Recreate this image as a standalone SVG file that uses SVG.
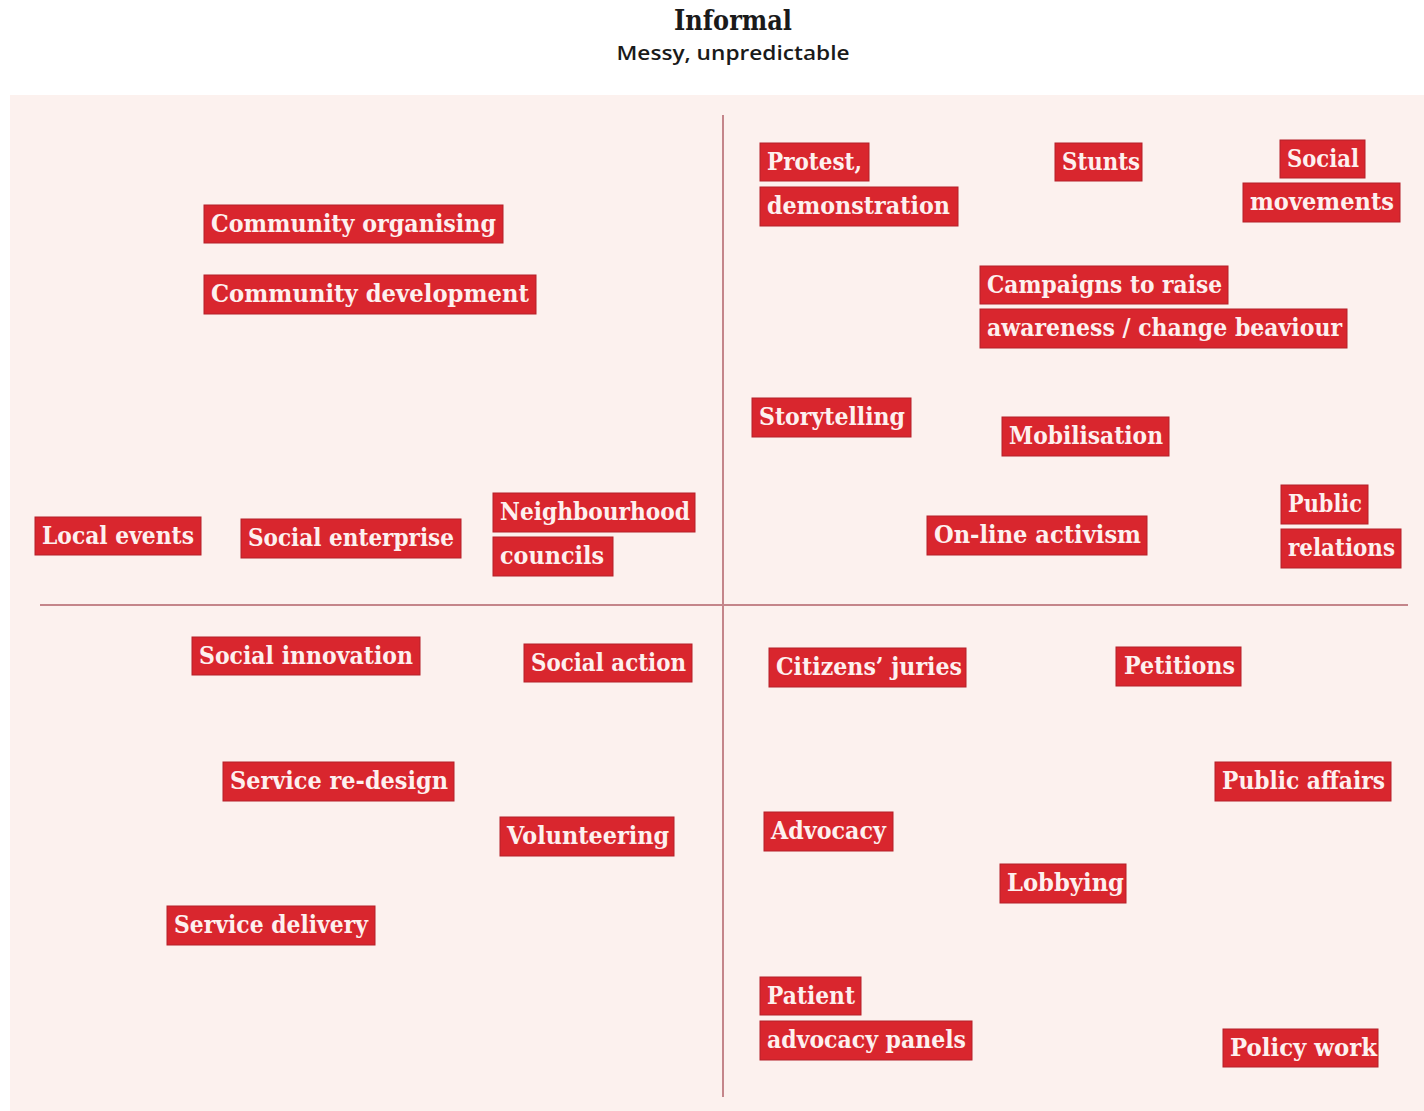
<svg xmlns="http://www.w3.org/2000/svg" width="1424" height="1111" viewBox="0 0 1424 1111">
<style>
.bg{fill:#fcf1ee}
.box{fill:#d9262e;stroke:#b42129;stroke-width:1}
.lbl{font-family:"DejaVu Serif","Liberation Serif",serif;font-weight:bold;font-size:24px;fill:#fdf0ef}
.axis{stroke:#c4858a;stroke-width:2;fill:none}
.title{font-family:"DejaVu Serif","Liberation Serif",serif;font-weight:bold;font-size:27px;fill:#1a1a1a}
.sub{font-family:"Open Sans","Liberation Sans",sans-serif;font-weight:600;font-size:20px;fill:#1a1a1a}
</style>
<rect x="0" y="0" width="1424" height="1111" fill="#ffffff"/>
<text class="title" x="733" y="30" text-anchor="middle" textLength="118" lengthAdjust="spacingAndGlyphs">Informal</text>
<text class="sub" x="733" y="60" text-anchor="middle" textLength="233" lengthAdjust="spacingAndGlyphs">Messy, unpredictable</text>
<rect class="bg" x="10" y="95" width="1414" height="1016"/>
<g id="connectors">
<line class="axis" x1="723" y1="115" x2="723" y2="1097"/>
<line class="axis" x1="40" y1="605" x2="1408" y2="605"/>
</g>
<g id="community-organising"><rect class="box" x="204" y="205" width="299" height="38"/><text class="lbl" x="211" y="232" textLength="285" lengthAdjust="spacingAndGlyphs">Community organising</text></g>
<g id="community-development"><rect class="box" x="204" y="275" width="332" height="39"/><text class="lbl" x="211" y="302" textLength="318" lengthAdjust="spacingAndGlyphs">Community development</text></g>
<g id="local-events"><rect class="box" x="35" y="517" width="166" height="38"/><text class="lbl" x="42" y="544" textLength="152" lengthAdjust="spacingAndGlyphs">Local events</text></g>
<g id="social-enterprise"><rect class="box" x="241" y="519" width="220" height="39"/><text class="lbl" x="248" y="546" textLength="206" lengthAdjust="spacingAndGlyphs">Social enterprise</text></g>
<g id="neighbourhood-councils"><rect class="box" x="493" y="493" width="202" height="39"/><text class="lbl" x="500" y="520" textLength="190" lengthAdjust="spacingAndGlyphs">Neighbourhood</text><rect class="box" x="493" y="537" width="120" height="39"/><text class="lbl" x="500" y="564" textLength="104" lengthAdjust="spacingAndGlyphs">councils</text></g>
<g id="protest-demonstration"><rect class="box" x="760" y="143" width="109" height="38"/><text class="lbl" x="767" y="170" textLength="95" lengthAdjust="spacingAndGlyphs">Protest,</text><rect class="box" x="760" y="187" width="198" height="39"/><text class="lbl" x="767" y="214" textLength="183" lengthAdjust="spacingAndGlyphs">demonstration</text></g>
<g id="stunts"><rect class="box" x="1055" y="143" width="87" height="38"/><text class="lbl" x="1062" y="170" textLength="78" lengthAdjust="spacingAndGlyphs">Stunts</text></g>
<g id="social-movements"><rect class="box" x="1280" y="140" width="85" height="38"/><text class="lbl" x="1287" y="167" textLength="72" lengthAdjust="spacingAndGlyphs">Social</text><rect class="box" x="1243" y="183" width="157" height="39"/><text class="lbl" x="1250" y="210" textLength="144" lengthAdjust="spacingAndGlyphs">movements</text></g>
<g id="campaigns"><rect class="box" x="980" y="266" width="248" height="38"/><text class="lbl" x="987" y="293" textLength="235" lengthAdjust="spacingAndGlyphs">Campaigns to raise</text><rect class="box" x="980" y="309" width="367" height="39"/><text class="lbl" x="987" y="336" textLength="355" lengthAdjust="spacingAndGlyphs">awareness / change beaviour</text></g>
<g id="storytelling"><rect class="box" x="752" y="398" width="159" height="39"/><text class="lbl" x="759" y="425" textLength="146" lengthAdjust="spacingAndGlyphs">Storytelling</text></g>
<g id="mobilisation"><rect class="box" x="1002" y="417" width="167" height="39"/><text class="lbl" x="1009" y="444" textLength="154" lengthAdjust="spacingAndGlyphs">Mobilisation</text></g>
<g id="online-activism"><rect class="box" x="927" y="516" width="220" height="39"/><text class="lbl" x="934" y="543" textLength="207" lengthAdjust="spacingAndGlyphs">On-line activism</text></g>
<g id="public-relations"><rect class="box" x="1281" y="485" width="87" height="39"/><text class="lbl" x="1288" y="512" textLength="74" lengthAdjust="spacingAndGlyphs">Public</text><rect class="box" x="1281" y="529" width="120" height="39"/><text class="lbl" x="1288" y="556" textLength="107" lengthAdjust="spacingAndGlyphs">relations</text></g>
<g id="social-innovation"><rect class="box" x="192" y="637" width="228" height="38"/><text class="lbl" x="199" y="664" textLength="214" lengthAdjust="spacingAndGlyphs">Social innovation</text></g>
<g id="social-action"><rect class="box" x="524" y="644" width="168" height="38"/><text class="lbl" x="531" y="671" textLength="155" lengthAdjust="spacingAndGlyphs">Social action</text></g>
<g id="citizens-juries"><rect class="box" x="769" y="648" width="197" height="39"/><text class="lbl" x="776" y="675" textLength="186" lengthAdjust="spacingAndGlyphs">Citizens’ juries</text></g>
<g id="petitions"><rect class="box" x="1116" y="647" width="125" height="39"/><text class="lbl" x="1124" y="674" textLength="111" lengthAdjust="spacingAndGlyphs">Petitions</text></g>
<g id="service-redesign"><rect class="box" x="223" y="762" width="231" height="39"/><text class="lbl" x="230" y="789" textLength="218" lengthAdjust="spacingAndGlyphs">Service re-design</text></g>
<g id="public-affairs"><rect class="box" x="1215" y="762" width="176" height="39"/><text class="lbl" x="1222" y="789" textLength="163" lengthAdjust="spacingAndGlyphs">Public affairs</text></g>
<g id="volunteering"><rect class="box" x="500" y="817" width="174" height="39"/><text class="lbl" x="507" y="844" textLength="162" lengthAdjust="spacingAndGlyphs">Volunteering</text></g>
<g id="advocacy"><rect class="box" x="764" y="812" width="129" height="39"/><text class="lbl" x="771" y="839" textLength="115" lengthAdjust="spacingAndGlyphs">Advocacy</text></g>
<g id="lobbying"><rect class="box" x="1000" y="864" width="126" height="39"/><text class="lbl" x="1007" y="891" textLength="117" lengthAdjust="spacingAndGlyphs">Lobbying</text></g>
<g id="service-delivery"><rect class="box" x="167" y="906" width="208" height="39"/><text class="lbl" x="174" y="933" textLength="194" lengthAdjust="spacingAndGlyphs">Service delivery</text></g>
<g id="patient-advocacy-panels"><rect class="box" x="760" y="977" width="101" height="38"/><text class="lbl" x="767" y="1004" textLength="88" lengthAdjust="spacingAndGlyphs">Patient</text><rect class="box" x="760" y="1021" width="212" height="39"/><text class="lbl" x="767" y="1048" textLength="199" lengthAdjust="spacingAndGlyphs">advocacy panels</text></g>
<g id="policy-work"><rect class="box" x="1223" y="1029" width="155" height="38"/><text class="lbl" x="1230" y="1056" textLength="147" lengthAdjust="spacingAndGlyphs">Policy work</text></g>
</svg>
